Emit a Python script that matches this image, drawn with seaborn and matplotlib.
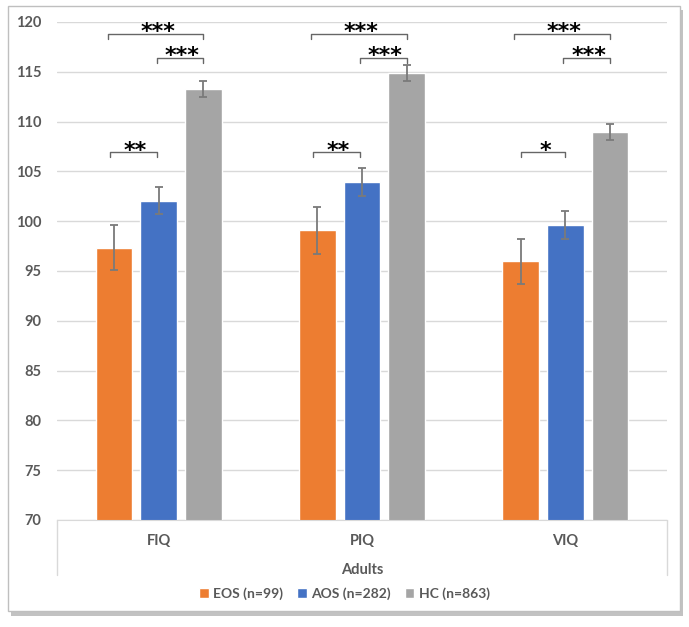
import numpy as np
import pandas as pd
import seaborn as sns
import matplotlib.pyplot as plt
from matplotlib.patches import Rectangle
from matplotlib.lines import Line2D

# data
categories = ['FIQ', 'PIQ', 'VIQ']
groups = ['EOS (n=99)', 'AOS (n=282)', 'HC (n=863)']
eos_mean = [97.35, 99.08, 95.95]
aos_mean = [102.05, 103.96, 99.65]
hc_mean = [113.27, 114.9, 108.95]
eos_se = [2.25, 2.33, 2.3]
aos_se = [1.33, 1.42, 1.4]
hc_se = [0.77, 0.8, 0.8]

# significance brackets: (category index, left offset, right offset, y, label)
sig_brackets = [
    (0, -0.25, 0.22, 118.8, '***'), (0, -0.01, 0.22, 116.4, '***'), (0, -0.24, -0.01, 106.9, '**'),
    (1, -0.25, 0.22, 118.8, '***'), (1, -0.01, 0.22, 116.4, '***'), (1, -0.24, -0.01, 106.9, '**'),
    (2, -0.25, 0.22, 118.8, '***'), (2, -0.01, 0.22, 116.4, '***'), (2, -0.22, 0.0, 106.9, '*'),
]

palette = ['#ED7D31', '#4472C4', '#A5A5A5']
grey_txt = '#595959'

df = pd.DataFrame({
    'test': categories * 3,
    'group': np.repeat(groups, 3),
    'iq': eos_mean + aos_mean + hc_mean,
})
ses = [eos_se, aos_se, hc_se]

sns.set_style('white')
plt.rcParams['font.family'] = ['Lato', 'DejaVu Sans']

fig = plt.figure(figsize=(6.89, 6.27), dpi=100)

# chart frame with drop shadow
fig.patches.append(Rectangle((0.016, 0.018), 0.976, 0.966, transform=fig.transFigure,
                             facecolor='#9a9a9a', edgecolor='none', alpha=0.6, zorder=-2))
fig.patches.append(Rectangle((0.011, 0.025), 0.976, 0.966, transform=fig.transFigure,
                             facecolor='white', edgecolor='#bfbfbf', lw=1, zorder=-1))

ax = fig.add_axes([0.0827, 0.1707, 0.8853, 0.7943])
ax.set_facecolor('none')
sns.barplot(data=df, x='test', y='iq', hue='group', hue_order=groups, order=categories,
            palette=palette, width=0.66, gap=0.18, errorbar=None, saturation=1, ax=ax)

for cont, se in zip(ax.containers, ses):
    xs = [b.get_x() + b.get_width() / 2 for b in cont]
    ys = [b.get_height() for b in cont]
    ax.errorbar(xs, ys, yerr=se, fmt='none', ecolor='#7a7a7a', elinewidth=1.3,
                capsize=3, capthick=1.3, zorder=4)

ax.set_ylim(70, 120)
ax.set_yticks(range(70, 121, 5))
ax.set_xlim(-0.5, 2.5)
ax.yaxis.grid(True, color='#d9d9d9', lw=1)
ax.set_axisbelow(True)
for s in ['top', 'right', 'left']:
    ax.spines[s].set_visible(False)
ax.spines['bottom'].set_color('#d9d9d9')
ax.tick_params(axis='y', length=0, pad=11, labelsize=10.5, labelcolor=grey_txt)
ax.tick_params(axis='x', length=0, pad=10, labelsize=10.5, labelcolor=grey_txt)
for lab in ax.get_yticklabels() + ax.get_xticklabels():
    lab.set_fontweight('bold')
ax.set_ylabel('')
ax.set_xlabel('Adults', fontsize=10.5, color=grey_txt, fontweight='bold', labelpad=11)

# category box edges below the axis
for xa in (0, 1):
    ax.add_line(Line2D([xa, xa], [0, -0.11], transform=ax.transAxes, color='#d9d9d9',
                       lw=1, clip_on=False))

for ci, x0, x1, y, lab in sig_brackets:
    a, b = ci + x0, ci + x1
    ax.plot([a, a, b, b], [y - 0.5, y, y, y - 0.5], color='#666666', lw=1.0, clip_on=False, zorder=5)
    ax.text((a + b) / 2 + 0.01, y - 0.45, lab, ha='center', va='baseline', fontsize=16,
            fontweight='bold', family='DejaVu Sans', color='black', clip_on=False)

handles, labels = ax.get_legend_handles_labels()
ax.get_legend().remove()
fig.legend(handles, labels, loc='center', bbox_to_anchor=(0.5, 0.053), ncol=3, frameon=False,
           handlelength=0.7, handleheight=0.7, handletextpad=0.3, columnspacing=1.0,
           prop={'size': 10, 'weight': 'bold'}, labelcolor=grey_txt)

fig.savefig('out.png', dpi=100)
